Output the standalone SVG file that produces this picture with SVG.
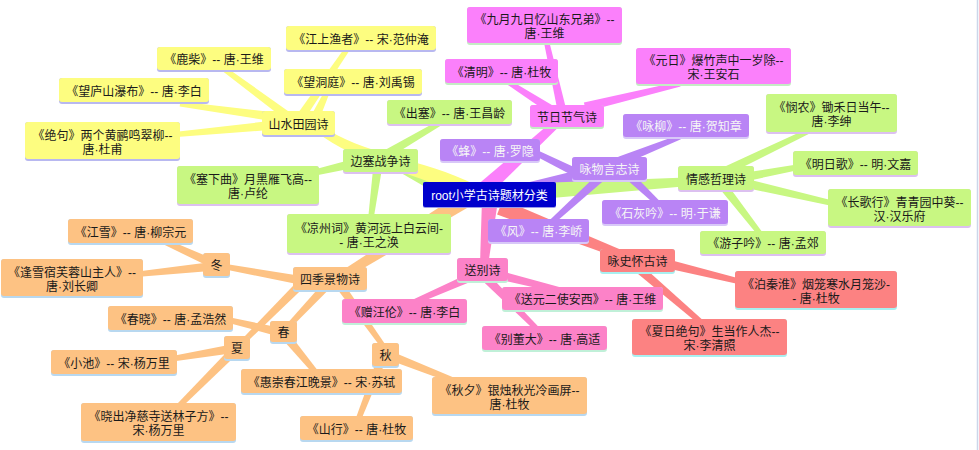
<svg xmlns="http://www.w3.org/2000/svg" width="979" height="450" viewBox="0 0 979 450">
<style>
text{font-family:"Liberation Sans","Noto Sans CJK SC",sans-serif;font-size:12px;fill:#1a1a1a;text-anchor:middle}
.y .bg{fill:#fdfd80}.y .sh{fill:#b8b8f0}
.g .bg{fill:#c8f782}.g .sh{fill:#dcc0f0}
.m .bg{fill:#fb80fb}.m .sh{fill:#c4ecc4}
.p .bg{fill:#b984f5}.p .sh{fill:#d8c8f8}
.r .bg{fill:#fc8282}.r .sh{fill:#a8f0f0}
.k .bg{fill:#fc82c8}.k .sh{fill:#c0f0d8}
.o .bg{fill:#fdc283}.o .sh{fill:#b8d8f0}
.p text{fill:#f6f6f6}
.root .bg{fill:#0000cc}.root .sh{fill:#9a9ae8}
.root text{fill:#ffffff}
.cy{fill:#fdfd80}.cg{fill:#c8f782}.cm{fill:#fb80fb}.cp{fill:#b984f5}.cr{fill:#fc8282}.ck{fill:#fc82c8}.co{fill:#fdc283}
</style>
<rect x="0" y="0" width="979" height="450" fill="#ffffff"/>
<line x1="977.5" y1="0" x2="977.5" y2="450" stroke="#ccd6ea" stroke-width="1.5"/>
<g id="connectors">
<polygon class="cg" points="453.6,184.8 391.8,158.4 388.2,165.6 446.4,199.2"/>
<path class="cy" d="M475.7,184.9 C423,158.5 362,155 320.4,124.8 L315.6,131.2 C358,165 417,171.5 468.3,199.1 Z"/>
<polygon class="co" points="460.8,193.2 332.9,276.6 337.1,283.4 469.2,206.8"/>
<polygon class="ck" points="482,199.3 480,264.6 488,265.4 498,200.7"/>
<polygon class="cm" points="483.4,200.9 562.7,123 557.3,117 472.6,189.1"/>
<polygon class="cp" points="532.4,197.6 596.2,173.8 593.8,166.2 527.6,182.4"/>
<polygon class="cg" points="540.5,199 700.3,185 699.8,177 539.5,183"/>
<polygon class="cr" points="497.1,214.5 628.5,261.7 631.5,254.3 502.9,199.5"/>
<polygon class="cy" points="295.7,116.4 221.5,64 218.5,68 290.3,123.6"/>
<polygon class="cy" points="275.6,112.5 180.3,101.5 179.7,106.5 274.4,121.5"/>
<polygon class="cy" points="274.6,120.5 169.8,132.5 170.2,137.5 275.4,129.5"/>
<polygon class="cy" points="303.7,120.5 352.1,46.4 347.9,43.6 296.3,115.5"/>
<polygon class="cy" points="319.1,119.9 330.3,91.1 325.7,89 310.9,116.1"/>
<polygon class="cg" points="382.3,161.9 446.3,122.2 443.7,117.8 377.7,154.1"/>
<polygon class="cg" points="359,157.6 299.4,173.6 300.6,178.4 361,166.4"/>
<polygon class="cg" points="373.5,164.4 367.5,224.7 372.5,225.3 382.5,165.6"/>
<polygon class="cm" points="567.4,114 547.4,34.5 542.6,35.5 558.6,116"/>
<polygon class="cm" points="557.4,108.2 506.3,77.9 503.7,82.1 552.6,115.8"/>
<polygon class="cm" points="586.1,111.4 680.6,86.4 679.4,81.6 583.9,102.6"/>
<polygon class="cp" points="621.7,165.2 680.9,139.3 679.1,134.7 618.3,156.8"/>
<polygon class="cp" points="587,173 521.1,142.8 518.9,147.2 583,181"/>
<polygon class="cp" points="621.9,175.3 663.3,211.8 666.7,208.2 628.1,168.7"/>
<polygon class="cp" points="597,174.7 543.3,226.2 546.7,229.9 603,181.3"/>
<polygon class="cg" points="717,180.1 816.1,130.3 813.9,125.8 713.1,171.9"/>
<polygon class="cg" points="740.8,182.4 810.5,167.5 809.5,162.5 739.2,173.6"/>
<polygon class="cg" points="739,186.4 839.4,207.4 840.6,202.6 741,177.6"/>
<polygon class="cg" points="716.4,184.8 763,241.5 767,238.5 723.6,179.2"/>
<polygon class="cr" points="658.9,266.4 749.4,286.4 750.6,281.6 661.1,257.6"/>
<polygon class="cr" points="635.1,271.4 708.4,331.9 711.6,328.1 640.9,264.6"/>
<polygon class="ck" points="476.2,269.9 404,303.7 406,308.3 479.8,278.1"/>
<polygon class="ck" points="493.9,278.4 574.4,296.4 575.6,291.6 496.1,269.6"/>
<polygon class="ck" points="479.8,278.2 538.2,333.8 541.8,330.2 486.2,271.8"/>
<polygon class="co" points="310.8,277.6 216.5,262.5 215.6,267.5 309.2,286.4"/>
<polygon class="co" points="326.7,278.9 281.2,330.3 284.8,333.7 333.3,285.1"/>
<polygon class="co" points="301.8,276.8 235.2,346.2 238.8,349.8 308.2,283.2"/>
<polygon class="co" points="332.3,282.6 384,351.5 388,348.5 339.7,277.4"/>
<polygon class="co" points="217.9,260.9 151,232.7 149,237.3 214.1,269.1"/>
<polygon class="co" points="215.5,261.5 129.7,272.5 130.3,277.5 216.5,270.5"/>
<polygon class="co" points="284,328.6 220.6,315.6 219.4,320.4 282,337.4"/>
<polygon class="co" points="279.5,335.9 320.1,381.6 323.9,378.4 286.5,330.1"/>
<polygon class="co" points="236.3,343.6 164.6,357.5 165.4,362.5 237.7,352.4"/>
<polygon class="co" points="233.8,344.8 168.2,413.2 171.8,416.8 240.2,351.2"/>
<polygon class="co" points="384.4,358.2 469.1,389.3 470.9,384.7 387.6,349.8"/>
<polygon class="co" points="378.8,354.4 352.7,427.1 357.3,428.9 387.2,357.6"/>
</g>
<g id="n_lz" class="y"><rect class="sh" x="157" y="47" width="114" height="25" rx="3"/><rect class="bg" x="157" y="47" width="114" height="23" rx="3"/><text x="214" y="64">《鹿柴》-- 唐·王维</text></g>
<g id="n_wlsp" class="y"><rect class="sh" x="59" y="78" width="150" height="26" rx="3"/><rect class="bg" x="59" y="78" width="150" height="24" rx="3"/><text x="134" y="95.5">《望庐山瀑布》-- 唐·李白</text></g>
<g id="n_jj" class="y"><rect class="sh" x="25" y="122" width="155" height="39" rx="3"/><rect class="bg" x="25" y="122" width="155" height="37" rx="3"/><text x="102.5" y="139.5">《绝句》两个黄鹂鸣翠柳--</text><text x="102.5" y="153.5">唐·杜甫</text></g>
<g id="n_ssty" class="y"><rect class="sh" x="262" y="111" width="73" height="26" rx="3"/><rect class="bg" x="262" y="111" width="73" height="24" rx="3"/><text x="298.5" y="128.5">山水田园诗</text></g>
<g id="n_jsyz" class="y"><rect class="sh" x="286" y="26" width="150" height="26" rx="3"/><rect class="bg" x="286" y="26" width="150" height="24" rx="3"/><text x="361" y="43.5">《江上渔者》-- 宋·范仲淹</text></g>
<g id="n_wdt" class="y"><rect class="sh" x="284" y="69" width="138" height="27" rx="3"/><rect class="bg" x="284" y="69" width="138" height="25" rx="3"/><text x="353" y="87">《望洞庭》-- 唐·刘禹锡</text></g>
<g id="n_bszz" class="g"><rect class="sh" x="343" y="149" width="75" height="25" rx="3"/><rect class="bg" x="343" y="149" width="75" height="23" rx="3"/><text x="380.5" y="166">边塞战争诗</text></g>
<g id="n_cs" class="g"><rect class="sh" x="387" y="100" width="125" height="26" rx="3"/><rect class="bg" x="387" y="100" width="125" height="24" rx="3"/><text x="449.5" y="117.5">《出塞》-- 唐·王昌龄</text></g>
<g id="n_sxq" class="g"><rect class="sh" x="177" y="166" width="142" height="40" rx="3"/><rect class="bg" x="177" y="166" width="142" height="38" rx="3"/><text x="248" y="184">《塞下曲》月黑雁飞高--</text><text x="248" y="198">唐·卢纶</text></g>
<g id="n_lzc" class="g"><rect class="sh" x="287" y="214" width="164" height="41" rx="3"/><rect class="bg" x="287" y="214" width="164" height="39" rx="3"/><text x="369" y="232.5">《凉州词》黄河远上白云间-</text><text x="369" y="246.5">- 唐·王之涣</text></g>
<g id="n_qgzl" class="g"><rect class="sh" x="678" y="166" width="76" height="26" rx="3"/><rect class="bg" x="678" y="166" width="76" height="24" rx="3"/><text x="716" y="183.5">情感哲理诗</text></g>
<g id="n_mn" class="g"><rect class="sh" x="766" y="94" width="131" height="40" rx="3"/><rect class="bg" x="766" y="94" width="131" height="38" rx="3"/><text x="831.5" y="112">《悯农》锄禾日当午--</text><text x="831.5" y="126">唐·李绅</text></g>
<g id="n_mrg" class="g"><rect class="sh" x="793" y="151" width="125" height="26" rx="3"/><rect class="bg" x="793" y="151" width="125" height="24" rx="3"/><text x="855.5" y="168.5">《明日歌》-- 明·文嘉</text></g>
<g id="n_cgx" class="g"><rect class="sh" x="828" y="189" width="143" height="39" rx="3"/><rect class="bg" x="828" y="189" width="143" height="37" rx="3"/><text x="899.5" y="206.5">《长歌行》青青园中葵--</text><text x="899.5" y="220.5">汉·汉乐府</text></g>
<g id="n_yzy" class="g"><rect class="sh" x="700" y="231" width="126" height="25" rx="3"/><rect class="bg" x="700" y="231" width="126" height="23" rx="3"/><text x="763" y="248">《游子吟》-- 唐·孟郊</text></g>
<g id="n_jrjq" class="m"><rect class="sh" x="530" y="105" width="74" height="24" rx="3"/><rect class="bg" x="530" y="105" width="74" height="22" rx="3"/><text x="567" y="121.5">节日节气诗</text></g>
<g id="n_jy" class="m"><rect class="sh" x="467" y="7" width="155" height="38" rx="3"/><rect class="bg" x="467" y="7" width="155" height="36" rx="3"/><text x="544.5" y="24">《九月九日忆山东兄弟》--</text><text x="544.5" y="38">唐·王维</text></g>
<g id="n_qm" class="m"><rect class="sh" x="445" y="59" width="113" height="26" rx="3"/><rect class="bg" x="445" y="59" width="113" height="24" rx="3"/><text x="501.5" y="76.5">《清明》-- 唐·杜牧</text></g>
<g id="n_yr" class="m"><rect class="sh" x="636" y="48" width="155" height="38" rx="3"/><rect class="bg" x="636" y="48" width="155" height="36" rx="3"/><text x="713.5" y="65">《元日》爆竹声中一岁除--</text><text x="713.5" y="79">宋·王安石</text></g>
<g id="n_ywyz" class="p"><rect class="sh" x="572" y="157" width="75" height="25" rx="3"/><rect class="bg" x="572" y="157" width="75" height="23" rx="3"/><text x="609.5" y="174">咏物言志诗</text></g>
<g id="n_yl" class="p"><rect class="sh" x="623" y="114" width="126" height="25" rx="3"/><rect class="bg" x="623" y="114" width="126" height="23" rx="3"/><text x="686" y="131">《咏柳》-- 唐·贺知章</text></g>
<g id="n_f" class="p"><rect class="sh" x="440" y="139" width="100" height="24" rx="3"/><rect class="bg" x="440" y="139" width="100" height="22" rx="3"/><text x="490" y="155.5">《蜂》-- 唐·罗隐</text></g>
<g id="n_shy" class="p"><rect class="sh" x="602" y="200" width="126" height="26" rx="3"/><rect class="bg" x="602" y="200" width="126" height="24" rx="3"/><text x="665" y="217.5">《石灰吟》-- 明·于谦</text></g>
<g id="n_fe" class="p"><rect class="sh" x="488" y="219" width="101" height="25" rx="3"/><rect class="bg" x="488" y="219" width="101" height="23" rx="3"/><text x="538.5" y="236">《风》-- 唐·李峤</text></g>
<g id="n_yshg" class="r"><rect class="sh" x="600" y="249" width="75" height="25" rx="3"/><rect class="bg" x="600" y="249" width="75" height="23" rx="3"/><text x="637.5" y="266">咏史怀古诗</text></g>
<g id="n_bqh" class="r"><rect class="sh" x="735" y="271" width="162" height="39" rx="3"/><rect class="bg" x="735" y="271" width="162" height="37" rx="3"/><text x="816" y="288.5">《泊秦淮》烟笼寒水月笼沙-</text><text x="816" y="302.5">- 唐·杜牧</text></g>
<g id="n_xrjj" class="r"><rect class="sh" x="632" y="319" width="155" height="38" rx="3"/><rect class="bg" x="632" y="319" width="155" height="36" rx="3"/><text x="709.5" y="336">《夏日绝句》生当作人杰--</text><text x="709.5" y="350">宋·李清照</text></g>
<g id="n_sbs" class="k"><rect class="sh" x="457" y="258" width="51" height="25" rx="3"/><rect class="bg" x="457" y="258" width="51" height="23" rx="3"/><text x="482.5" y="275">送别诗</text></g>
<g id="n_zwl" class="k"><rect class="sh" x="342" y="299" width="125" height="26" rx="3"/><rect class="bg" x="342" y="299" width="125" height="24" rx="3"/><text x="404.5" y="316.5">《赠汪伦》-- 唐·李白</text></g>
<g id="n_syr" class="k"><rect class="sh" x="502" y="287" width="161" height="25" rx="3"/><rect class="bg" x="502" y="287" width="161" height="23" rx="3"/><text x="582.5" y="304">《送元二使安西》-- 唐·王维</text></g>
<g id="n_bdd" class="k"><rect class="sh" x="482" y="326" width="125" height="26" rx="3"/><rect class="bg" x="482" y="326" width="125" height="24" rx="3"/><text x="544.5" y="343.5">《别董大》-- 唐·高适</text></g>
<g id="n_sjjw" class="o"><rect class="sh" x="293" y="267" width="74" height="25" rx="3"/><rect class="bg" x="293" y="267" width="74" height="23" rx="3"/><text x="330" y="284">四季景物诗</text></g>
<g id="n_d" class="o"><rect class="sh" x="203" y="253" width="27" height="25" rx="3"/><rect class="bg" x="203" y="253" width="27" height="23" rx="3"/><text x="216.5" y="270">冬</text></g>
<g id="n_jx" class="o"><rect class="sh" x="68" y="219" width="125" height="26" rx="3"/><rect class="bg" x="68" y="219" width="125" height="24" rx="3"/><text x="130.5" y="236.5">《江雪》-- 唐·柳宗元</text></g>
<g id="n_fx" class="o"><rect class="sh" x="1" y="259" width="142" height="39" rx="3"/><rect class="bg" x="1" y="259" width="142" height="37" rx="3"/><text x="72" y="276.5">《逢雪宿芙蓉山主人》--</text><text x="72" y="290.5">唐·刘长卿</text></g>
<g id="n_c" class="o"><rect class="sh" x="270" y="321" width="27" height="23" rx="3"/><rect class="bg" x="270" y="321" width="27" height="21" rx="3"/><text x="283.5" y="337">春</text></g>
<g id="n_cx" class="o"><rect class="sh" x="108" y="306" width="125" height="26" rx="3"/><rect class="bg" x="108" y="306" width="125" height="24" rx="3"/><text x="170.5" y="323.5">《春晓》-- 唐·孟浩然</text></g>
<g id="n_hc" class="o"><rect class="sh" x="241" y="369" width="161" height="26" rx="3"/><rect class="bg" x="241" y="369" width="161" height="24" rx="3"/><text x="321.5" y="386.5">《惠崇春江晚景》-- 宋·苏轼</text></g>
<g id="n_x" class="o"><rect class="sh" x="224" y="336" width="26" height="25" rx="3"/><rect class="bg" x="224" y="336" width="26" height="23" rx="3"/><text x="237" y="353">夏</text></g>
<g id="n_xc" class="o"><rect class="sh" x="51" y="350" width="126" height="26" rx="3"/><rect class="bg" x="51" y="350" width="126" height="24" rx="3"/><text x="114" y="367.5">《小池》-- 宋·杨万里</text></g>
<g id="n_xcjc" class="o"><rect class="sh" x="81" y="403" width="155" height="40" rx="3"/><rect class="bg" x="81" y="403" width="155" height="38" rx="3"/><text x="158.5" y="421">《晓出净慈寺送林子方》--</text><text x="158.5" y="435">宋·杨万里</text></g>
<g id="n_q" class="o"><rect class="sh" x="372" y="343" width="27" height="25" rx="3"/><rect class="bg" x="372" y="343" width="27" height="23" rx="3"/><text x="385.5" y="360">秋</text></g>
<g id="n_qx" class="o"><rect class="sh" x="432" y="377" width="155" height="39" rx="3"/><rect class="bg" x="432" y="377" width="155" height="37" rx="3"/><text x="509.5" y="394.5">《秋夕》银烛秋光冷画屏--</text><text x="509.5" y="408.5">唐·杜牧</text></g>
<g id="n_sx" class="o"><rect class="sh" x="300" y="416" width="113" height="26" rx="3"/><rect class="bg" x="300" y="416" width="113" height="24" rx="3"/><text x="356.5" y="433.5">《山行》-- 唐·杜牧</text></g>
<g id="n_root" class="root"><rect class="sh" x="423" y="182" width="133" height="26" rx="2"/><rect class="bg" x="423" y="182" width="133" height="25" rx="2"/><text x="489.5" y="199.5">root小学古诗题材分类</text></g>
</svg>
